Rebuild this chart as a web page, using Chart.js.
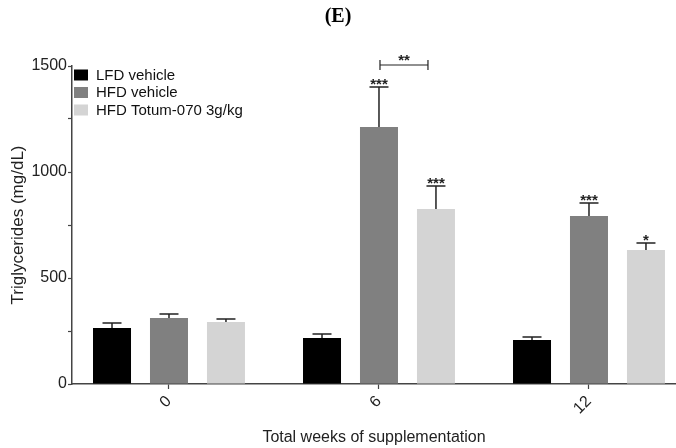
<!DOCTYPE html>
<html>
<head>
<meta charset="utf-8">
<script src="https://cdn.jsdelivr.net/npm/chart.js@4.4.0/dist/chart.umd.min.js"></script>
<style>
html, body { margin: 0; padding: 0; background: #fff; overflow: hidden; }
#wrap { width: 676px; height: 448px; }
</style>
</head>
<body>
<div id="wrap"><canvas id="chart" width="676" height="448"></canvas></div>
<script>
// weeks of supplementation (x positions and tick labels)
const weeks = [0, 6, 12];
const groupNames = ['LFD vehicle', 'HFD vehicle', 'HFD Totum-070 3g/kg'];
const groupColors = ['#000000', '#808080', '#d4d4d4'];

// means (mg/dL)
const lfdMeans = [264, 217, 208];
const hfdMeans = [311, 1212, 792];
const totumMeans = [292, 825, 632];

// mean + SEM (top of error bar)
const lfdErrTop = [288, 236, 222];
const hfdErrTop = [330, 1401, 854];
const totumErrTop = [307, 934, 665];

// significance marks vs LFD
const lfdStars = ['', '', ''];
const hfdStars = ['', '***', '***'];
const totumStars = ['', '***', '*'];

// HFD vs Totum bracket at week 6
const bracketWeek = 6;
const bracketLabel = '**';
const bracketValue = 1500;

const yTicks = [0, 500, 1000, 1500];

const errTops = [lfdErrTop, hfdErrTop, totumErrTop];
const stars = [lfdStars, hfdStars, totumStars];
const allMeans = [lfdMeans, hfdMeans, totumMeans];

const FONT = '"Liberation Sans", Arial, sans-serif';

const annotations = {
    id: 'annotations',
    afterDatasetsDraw(chart) {
        const ctx = chart.ctx;
        const yScale = chart.scales.y;
        ctx.save();
        ctx.strokeStyle = '#222';
        ctx.fillStyle = '#222';
        ctx.lineWidth = 1.5;
        chart.data.datasets.forEach((ds, di) => {
            const meta = chart.getDatasetMeta(di);
            meta.data.forEach((bar, i) => {
                const top = yScale.getPixelForValue(errTops[di][i]);
                ctx.beginPath();
                ctx.moveTo(bar.x, bar.y);
                ctx.lineTo(bar.x, top);
                ctx.moveTo(bar.x - 9.5, top);
                ctx.lineTo(bar.x + 9.5, top);
                ctx.stroke();
                if (stars[di][i]) {
                    ctx.font = 'bold 15px ' + FONT;
                    ctx.textAlign = 'center';
                    ctx.textBaseline = 'alphabetic';
                    ctx.fillText(stars[di][i], bar.x, top + 2);
                }
            });
        });

        // bracket between HFD and Totum
        const bi = weeks.indexOf(bracketWeek);
        const b1 = chart.getDatasetMeta(1).data[bi];
        const b2 = chart.getDatasetMeta(2).data[bi];
        const by = yScale.getPixelForValue(bracketValue) - 1;
        const x1 = b1.x + 1;
        const x2 = b2.x - 8;
        ctx.lineWidth = 1.2;
        ctx.beginPath();
        ctx.moveTo(x1, by);
        ctx.lineTo(x2, by);
        ctx.moveTo(x1, by - 5);
        ctx.lineTo(x1, by + 5);
        ctx.moveTo(x2, by - 5);
        ctx.lineTo(x2, by + 5);
        ctx.stroke();
        ctx.font = 'bold 15px ' + FONT;
        ctx.textAlign = 'center';
        ctx.fillText(bracketLabel, (x1 + x2) / 2, by);

        // legend
        const lx = chart.chartArea.left + 2;
        ctx.font = '15px ' + FONT;
        ctx.textAlign = 'left';
        ctx.textBaseline = 'middle';
        groupNames.forEach((name, k) => {
            const cy = chart.chartArea.top + 9 + k * 17.5;
            ctx.fillStyle = groupColors[k];
            ctx.fillRect(lx, cy - 5.5, 14, 11);
            ctx.fillStyle = '#111';
            ctx.fillText(name, lx + 22, cy + 0.5);
        });
        ctx.restore();
    }
};

const datasets = groupNames.map((name, k) => ({
    label: name,
    data: weeks.map((w, i) => ({ x: w, y: allMeans[k][i] })),
    backgroundColor: groupColors[k],
    borderWidth: 0,
    barPercentage: 0.667,
    categoryPercentage: 0.814
}));

new Chart(document.getElementById('chart'), {
    type: 'bar',
    data: { datasets: datasets },
    plugins: [annotations],
    options: {
        responsive: false,
        animation: false,
        devicePixelRatio: 1,
        layout: { padding: { top: 0, left: 0, right: 0, bottom: 0 } },
        plugins: {
            legend: { display: false },
            tooltip: { enabled: false },
            title: {
                display: true,
                text: '(E)',
                color: '#000',
                font: { family: '"Liberation Serif", "Times New Roman", serif', size: 20, weight: 'bold' },
                padding: { top: 5, bottom: 37 }
            }
        },
        scales: {
            x: {
                type: 'linear',
                offset: false,
                min: -2.771,
                max: 14.486,
                afterBuildTicks: (scale) => { scale.ticks = weeks.map(w => ({ value: w })); },
                afterFit: (scale) => { scale.height = 64; },
                grid: { offset: false, drawOnChartArea: false, tickLength: 5, color: '#444', tickWidth: 1.2 },
                border: { color: '#444', width: 1.5 },
                ticks: {
                    color: '#222',
                    font: { family: FONT, size: 16 },
                    minRotation: 45,
                    maxRotation: 45,
                    padding: 3,
                    callback: (v) => String(v)
                },
                title: {
                    display: true,
                    text: 'Total weeks of supplementation',
                    color: '#222',
                    font: { family: FONT, size: 16 },
                    padding: { top: 0, bottom: 1 }
                }
            },
            y: {
                min: 0,
                max: 1500,
                afterFit: (scale) => { scale.width = 72; },
                grid: { drawOnChartArea: false, tickLength: 4, color: '#444', tickWidth: 1.2 },
                border: { color: '#444', width: 1.5 },
                ticks: {
                    stepSize: 250,
                    color: '#222',
                    font: { family: FONT, size: 16 },
                    padding: 1,
                    callback: (v) => yTicks.includes(v) ? String(v) : ''
                },
                title: {
                    display: true,
                    text: 'Triglycerides (mg/dL)',
                    color: '#222',
                    font: { family: FONT, size: 17 },
                    padding: { top: 8, bottom: 0 }
                }
            }
        }
    }
});
</script>
</body>
</html>
